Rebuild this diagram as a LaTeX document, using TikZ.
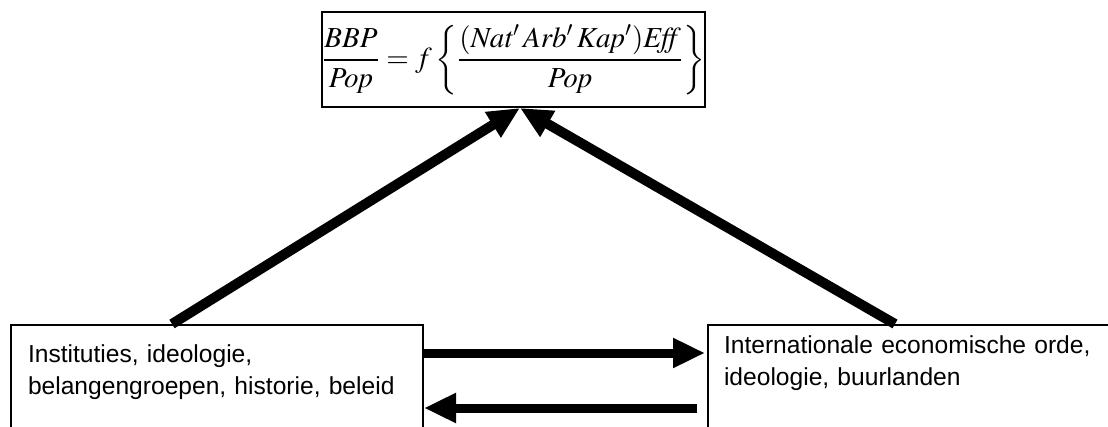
\documentclass[tikz,border=0pt]{standalone}
\usepackage{mathptmx}
\usepackage[no-math]{fontspec}
\setmainfont{Liberation Sans}
\usetikzlibrary{arrows.meta}

\begin{document}
\begin{tikzpicture}[x=0.5pt,y=-0.5pt,>={Triangle[length=16pt,width=14pt]},
  box/.style={draw,line width=1pt,anchor=north west,align=left,
    font=\fontsize{12.3}{16}\selectfont,text depth=60pt},
  bigarrow/.style={->,line width=5pt}]
  \useasboundingbox (0,0) rectangle (1108,427);
  \node[draw,line width=1pt,minimum width=191.5pt,minimum height=47.5pt,inner sep=0pt]
    (formula) at (513.5,59.5)
    {\fontsize{14.5}{17}\selectfont$\displaystyle \frac{\mathit{BBP}}{\mathit{Pop}}=f\left\{\frac{(\mathit{Nat}'\,\mathit{Arb}'\,\mathit{Kap}')\mathit{Eff}}{\mathit{Pop}}\right\}$};
  \node[box,text width=189pt,inner xsep=8.5pt,inner ysep=10pt] (inst) at (10,324)
    {Instituties, ideologie,\\belangengroepen, historie, beleid};
  \node[box,text width=234pt,inner xsep=8pt,inner ysep=5.5pt] (intl) at (707,324)
    {Internationale economische orde,\\ideologie, buurlanden};
  \draw[bigarrow] ([xshift=81pt]inst.north west) -- ([xshift=3.25pt]formula.south);
  \draw[bigarrow] ([xshift=94pt]intl.north west) -- ([xshift=3.25pt]formula.south);
  \draw[bigarrow,line width=4.5pt] ([yshift=-14.5pt]inst.north east) -- ([yshift=-14.5pt,xshift=-1pt]intl.north west);
  \draw[bigarrow,line width=4.5pt] ([yshift=-42pt,xshift=-5pt]intl.north west) -- ([yshift=-42pt]inst.north east);
\end{tikzpicture}
\end{document}
